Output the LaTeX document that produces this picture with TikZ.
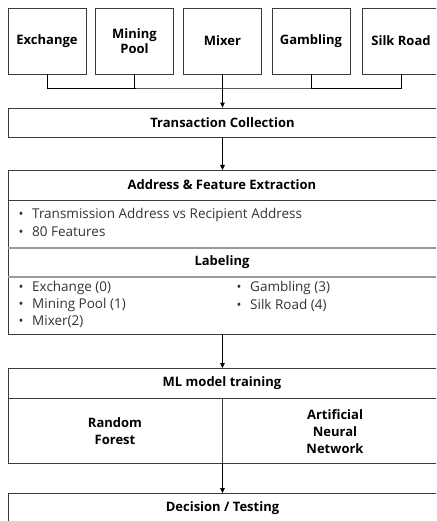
\documentclass[tikz,border=0pt]{standalone}
\usepackage{fontspec}
\setmainfont{Open Sans}
\usepackage{tikz}
\usetikzlibrary{arrows.meta, calc}

\definecolor{framecol}{HTML}{3A3A3A}
\definecolor{sepcol}{HTML}{9A9A9A}

\tikzset{
    srcbox/.style={draw=framecol, line width=0.8pt, minimum width=78pt, minimum height=66pt,
        align=center, font=\fontsize{13}{15}\selectfont\bfseries, inner sep=0pt},
    widebox/.style={draw=framecol, line width=0.8pt, minimum width=429pt, minimum height=29pt,
        font=\fontsize{13}{15}\selectfont\bfseries, inner sep=0pt},
    headtxt/.style={font=\fontsize{13}{17}\selectfont\bfseries, inner sep=0pt},
    bodytxt/.style={anchor=west, font=\fontsize{13.5}{15}\selectfont, text=black!80, inner sep=0pt},
    bullettxt/.style={anchor=base, font=\fontsize{13}{15}\selectfont, text=black!80, inner sep=0pt},
    flow/.style={draw=black, line width=0.9pt},
    flowarrow/.style={flow, -{Triangle[length=5pt, width=4.5pt]}}
}

\begin{document}
\begin{tikzpicture}[x=1pt, y=-1pt]
    \useasboundingbox (0,0) rectangle (436,521);
    \clip (0,0) rectangle (436,521);

    % sources
    \node[srcbox] (exch) at (47,41) {Exchange};
    \node[srcbox] (mpool) at (134.5,41) {Mining\\Pool};
    \node[srcbox] (mixer) at (222.5,41) {Mixer};
    \node[srcbox] (gamb) at (311,41) {Gambling};
    \node[srcbox] (silk) at (401,41) {Silk Road};

    \coordinate (bus) at (222.5,88);
    \draw[flow] (exch.south) |- (bus) -| (silk.south);
    \draw[flow] (mpool.south) -- (mpool.south |- bus);
    \draw[flow] (gamb.south) -- (gamb.south |- bus);

    % transaction collection
    \node[widebox] (trans) at (222.5,122.5) {Transaction Collection};
    \draw[flowarrow] (mixer.south) -- (trans.north);

    % address & feature extraction / labeling
    \coordinate (addrtl) at (8,170);
    \coordinate (addrbr) at (437,334);
    \node[headtxt] (addrhead) at (222,185) {Address \& Feature Extraction};
    \foreach \y/\t in {215/Transmission Address vs Recipient Address, 232/80 Features} {
        \node[bodytxt] (feat\y) at (32,\y) {\t};
        \node[bullettxt] (featb\y) at ($(feat\y.base west)+(-11,0)$) {\textbullet};
    }
    \node[headtxt] (labhead) at (222,262.5) {Labeling};
    \foreach \x/\y/\t in {32/288/Exchange (0), 32/305/Mining Pool (1), 32/322/Mixer(2),
                          250/288/Gambling (3), 250/305/Silk Road (4)} {
        \node[bodytxt] (lab\x\y) at (\x,\y) {\t};
        \node[bullettxt] (labb\x\y) at ($(lab\x\y.base west)+(-11,0)$) {\textbullet};
    }
    \draw[draw=framecol, line width=0.8pt] (addrtl) rectangle (addrbr);
    \draw[draw=framecol, line width=0.8pt] (8,200) -- (437,200);
    \draw[draw=sepcol, line width=1.6pt] (8,248) -- (437,248);
    \draw[draw=sepcol, line width=1.6pt] (8,277) -- (437,277);
    \draw[flowarrow] (trans.south) -- (trans.south |- addrtl);

    % ML model training
    \coordinate (mltl) at (8,368);
    \coordinate (mlbr) at (437,463);
    \node[headtxt] (mlhead) at (222,383) {ML model training};
    \node[headtxt, align=center] (rf) at (115,431.5) {Random\\Forest};
    \node[headtxt, align=center] (ann) at (335,431.5) {Artificial\\Neural\\Network};
    \draw[draw=framecol, line width=0.8pt] (mltl) rectangle (mlbr);
    \draw[draw=framecol, line width=0.8pt] (8,398) -- (437,398);
    \draw[draw=framecol, line width=0.8pt] (222.5,398) -- (222.5,463);
    \draw[flowarrow] (222.5,334) -- (222.5,368);

    % decision
    \node[widebox] (dec) at (222.5,508) {Decision / Testing};
    \draw[flowarrow] (222.5,463) -- (dec.north);
\end{tikzpicture}
\end{document}
